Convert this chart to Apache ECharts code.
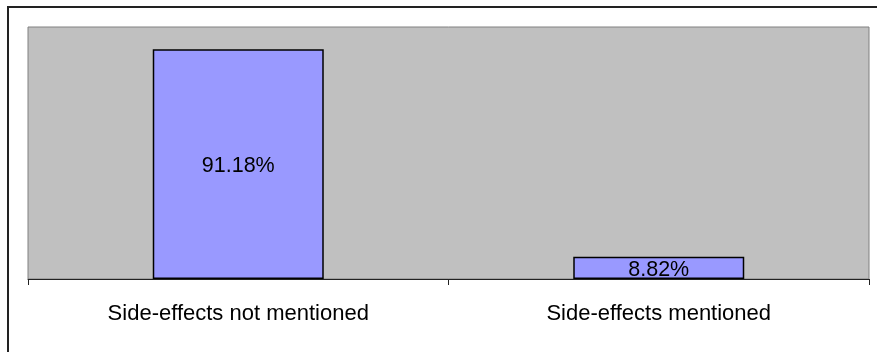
<!DOCTYPE html>
<html lang="en">
<head>
  <meta charset="utf-8">
  <title>Side-effects</title>
  <script src="https://cdn.jsdelivr.net/npm/echarts@6/dist/echarts.min.js"></script>
  <style>
    html, body { margin: 0; padding: 0; background: #fff; }
    #container { width: 877px; height: 352px; }
  </style>
</head>
<body>
<div id="container"></div>
<script>
  // data
  var categories = ['Side-effects not mentioned', 'Side-effects mentioned'];
  var shares = [91.18, 8.82];

  var myChart = echarts.init(document.getElementById('container'));

  var option = {
    animation: false,
    textStyle: { fontFamily: 'Liberation Sans, Arial, sans-serif' },
    graphic: [{
      type: 'rect',
      shape: { x: 8, y: 7, width: 900, height: 400 },
      style: { fill: 'none', stroke: '#222', lineWidth: 2 },
      silent: true
    }],
    grid: {
      left: 28, right: 8, top: 27, bottom: 73,
      show: true,
      backgroundColor: '#c0c0c0',
      borderColor: '#808080',
      borderWidth: 1
    },
    xAxis: {
      type: 'category',
      data: categories,
      axisLine: { lineStyle: { color: '#222', width: 1 } },
      axisTick: { show: true, length: 6, lineStyle: { color: '#222' } },
      axisLabel: { color: '#000', fontSize: 22, margin: 24 }
    },
    yAxis: {
      type: 'value',
      min: 0, max: 100,
      axisLine: { show: false },
      axisTick: { show: false },
      axisLabel: { show: false },
      splitLine: { show: false }
    },
    series: [{
      type: 'bar',
      data: shares,
      barWidth: 171,
      itemStyle: { color: '#9999ff', borderColor: '#000', borderWidth: 1.5 },
      label: {
        show: true,
        position: 'inside',
        offset: [0, 2],
        color: '#000',
        fontSize: 21.5,
        formatter: function (p) { return p.value.toFixed(2) + '%'; }
      }
    }]
  };

  myChart.setOption(option);
</script>
</body>
</html>
